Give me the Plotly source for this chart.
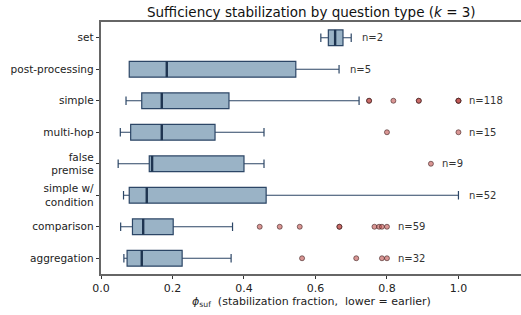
import plotly.graph_objects as go

categories = ["set", "post-processing", "simple", "multi-hop", "false<br>premise",
              "simple w/<br>condition", "comparison", "aggregation"]
whisker_lo = [0.615, 0.079, 0.070, 0.054, 0.048, 0.063, 0.055, 0.064]
q1 =         [0.636, 0.079, 0.114, 0.083, 0.135, 0.079, 0.088, 0.073]
median =     [0.655, 0.184, 0.170, 0.170, 0.143, 0.128, 0.118, 0.114]
q3 =         [0.677, 0.545, 0.358, 0.319, 0.400, 0.462, 0.202, 0.227]
whisker_hi = [0.700, 0.666, 0.722, 0.456, 0.456, 1.000, 0.368, 0.364]
outliers = [
    [],
    [],
    [0.750, 0.750, 0.818, 0.889, 0.889, 1.0, 1.0, 1.0],
    [0.800, 1.0],
    [0.923],
    [],
    [0.444, 0.500, 0.556, 0.667, 0.667, 0.765, 0.778, 0.786, 0.800],
    [0.5625, 0.714, 0.786, 0.800],
]
counts = [2, 5, 118, 15, 9, 52, 59, 32]
x_ticks = [0.0, 0.2, 0.4, 0.6, 0.8, 1.0]

pos = list(range(len(categories)))
box_fill = "rgb(154,179,198)"
edge = "rgb(44,70,102)"

fig = go.Figure()
fig.add_trace(go.Box(
    y=pos, q1=q1, median=median, q3=q3,
    lowerfence=whisker_lo, upperfence=whisker_hi,
    orientation="h", boxpoints=False, width=0.5, whiskerwidth=0.55,
    fillcolor=box_fill, line=dict(color=edge, width=1.2),
    hoverinfo="skip", showlegend=False,
))

# thicker median lines
mx, my = [], []
for i, m in enumerate(median):
    mx += [m, m, None]
    my += [i - 0.25, i + 0.25, None]
fig.add_trace(go.Scatter(x=mx, y=my, mode="lines",
                         line=dict(color="rgb(30,52,80)", width=2.4),
                         showlegend=False, hoverinfo="skip"))

# outliers
ox, oy = [], []
for i, vals in enumerate(outliers):
    ox += vals
    oy += [i] * len(vals)
fig.add_trace(go.Scatter(x=ox, y=oy, mode="markers",
                         marker=dict(size=5, color="rgba(192,80,77,0.6)",
                                     line=dict(color="rgba(60,30,30,0.75)", width=0.8)),
                         showlegend=False, hoverinfo="skip"))

# n labels
for i, n in enumerate(counts):
    xmax = max([whisker_hi[i]] + outliers[i])
    fig.add_annotation(x=xmax + 0.025, y=i, text=f"n={n}", showarrow=False,
                       xanchor="left", yanchor="middle",
                       font=dict(size=10, color="#333333"))

# x-axis title
fig.add_annotation(
    text="<i>ϕ</i><sub>suf</sub>\u00a0\u00a0(stabilization fraction,\u00a0\u00a0lower = earlier)",
    xref="paper", yref="paper", x=0.5, y=-0.11, xanchor="center", yanchor="middle",
    showarrow=False, font=dict(size=11, color="#222222"))

fig.update_layout(
    width=521, height=315,
    margin=dict(l=101, r=0, t=22, b=41, autoexpand=False),
    paper_bgcolor="white", plot_bgcolor="white",
    font=dict(family="DejaVu Sans", color="#222222"),
    title=dict(text="Sufficiency stabilization by question type (<i>k</i> = 3)",
               x=0.5975, xanchor="center", y=0.962, yanchor="middle",
               font=dict(size=13.5, color="#111111")),
)
fig.update_xaxes(
    range=[0, 1.175], tickvals=x_ticks, ticktext=[f"{v:.1f}" for v in x_ticks],
    showgrid=False, zeroline=False, showline=True, linecolor="#666666", linewidth=1.5,
    mirror=True, ticks="outside", ticklen=3.5, tickcolor="#333333", automargin=False,
    tickfont=dict(size=11, color="#222222"),
)
fig.update_yaxes(
    range=[7.5, -0.5], tickvals=pos, ticktext=categories, automargin=False,
    showgrid=False, zeroline=False, showline=True, linecolor="#666666", linewidth=1.5,
    ticks="outside", ticklen=3.5, tickcolor="#333333",
    tickfont=dict(size=10.5, color="#222222"),
)

fig.write_html("out.html", config={"displayModeBar": False},
               post_script="document.body.style.margin='0';document.body.style.overflow='hidden';")
